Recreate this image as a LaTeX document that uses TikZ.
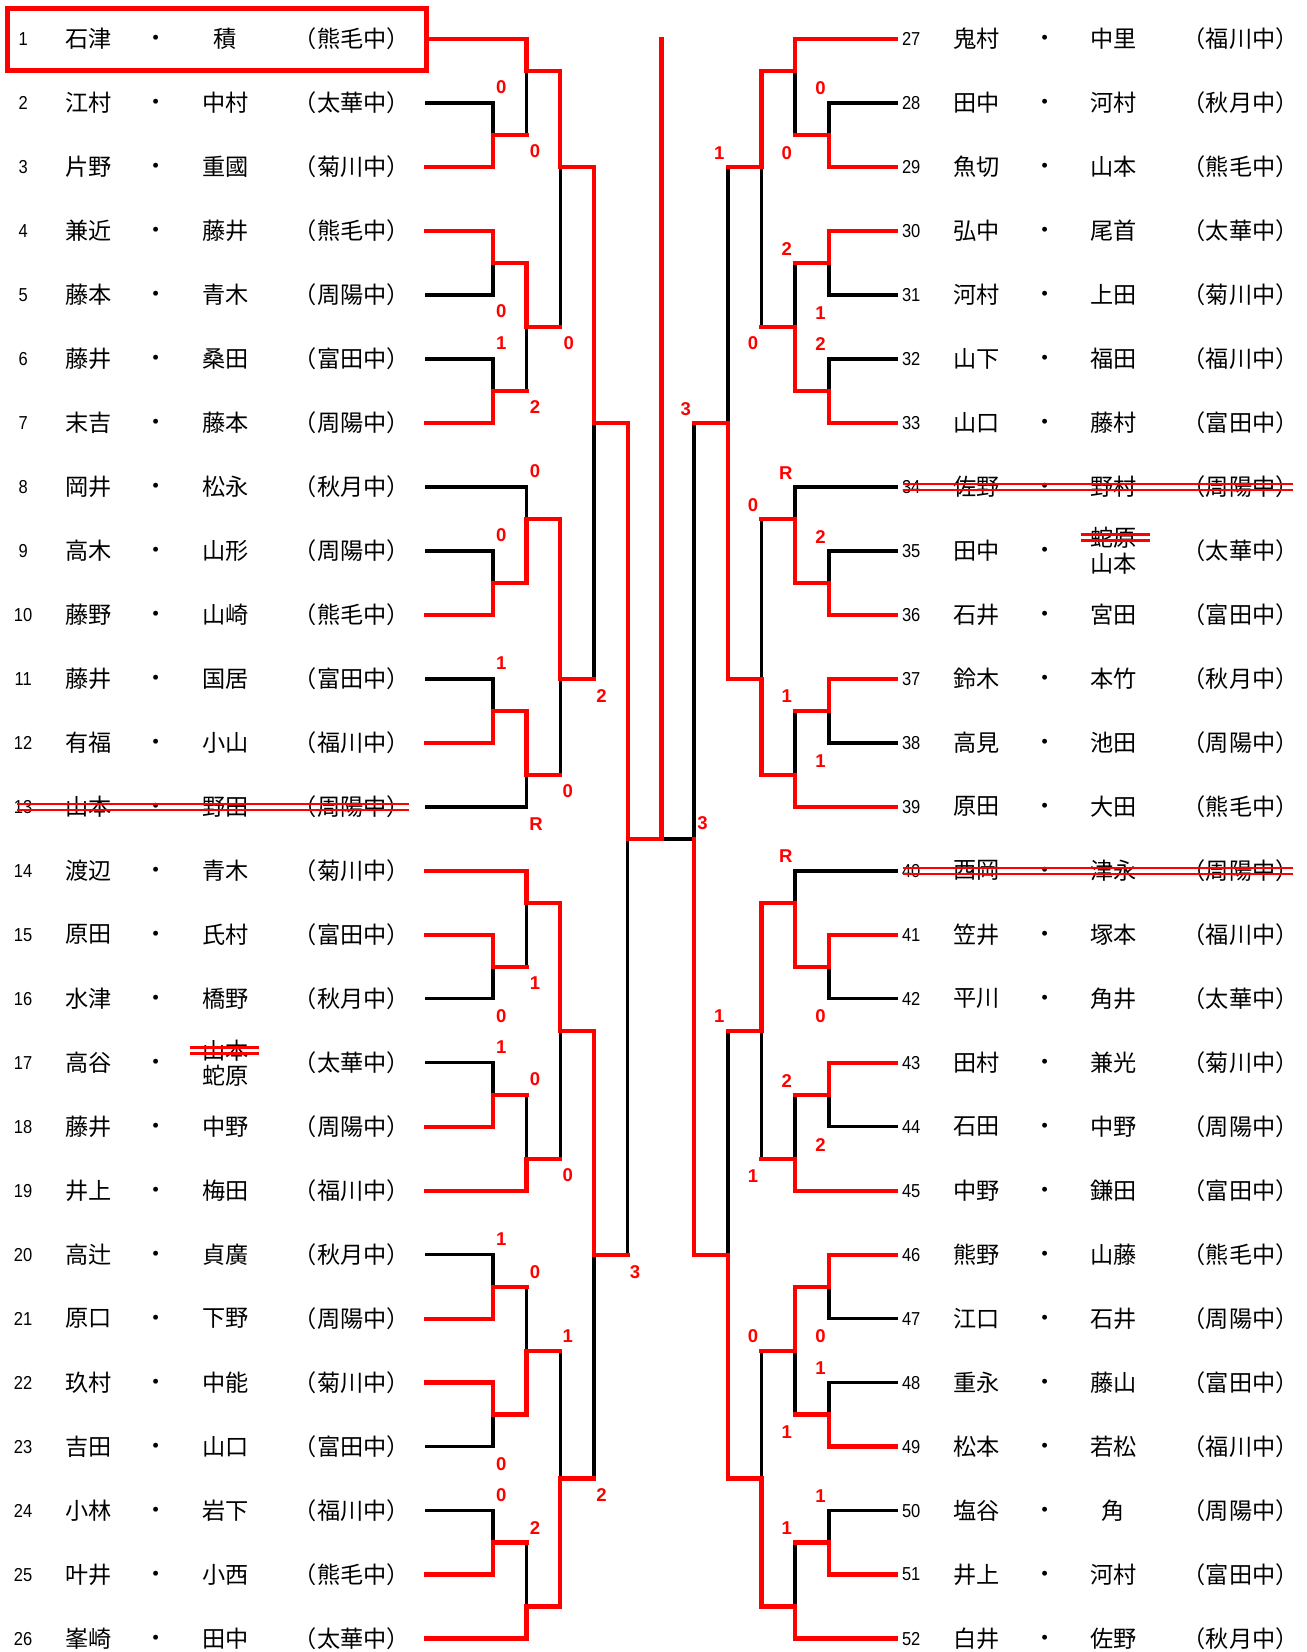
\documentclass[tikz,border=0pt]{standalone}
\usepackage{fontspec}
\setmainfont{Noto Sans CJK JP}
\newfontfamily\numf[FakeStretch=0.88]{Liberation Sans}
\newfontfamily\scf{Liberation Sans}
\begin{document}
\begin{tikzpicture}[
  lose/.style={draw=black, line width=1.65pt, line join=miter, line cap=rect},
  win/.style={draw=red, line width=2.05pt, line join=miter, line cap=rect},
  strk/.style={draw=red, line width=1.2pt},
  nm/.style={font=\fontsize{11}{12}\selectfont, inner sep=0pt},
  num/.style={font=\numf\fontsize{8.9}{10}\selectfont, inner sep=0pt},
  sc/.style={text=red, font=\scf\bfseries\fontsize{8.8}{10}\selectfont, inner sep=0pt}
]
\useasboundingbox (0pt,0pt) rectangle (620pt,-784.25pt);
\begin{scope}[yshift=11.875pt, x=0.5pt, y=-30.375pt]
% ---------- black (losing) lines, left ----------
\draw[lose] (405,2) -- (468,2) -- (468,2.5);
\draw[lose] (500,1.5) -- (500,2.5);
\draw[lose] (405,5) -- (468,5) -- (468,4.5);
\draw[lose] (405,6) -- (468,6) -- (468,6.5);
\draw[lose] (500,5.5) -- (500,6.5);
\draw[lose] (532,3) -- (532,5.5);
\draw[lose] (405,8) -- (500,8) -- (500,8.5);
\draw[lose] (405,9) -- (468,9) -- (468,9.5);
\draw[lose] (405,11) -- (468,11) -- (468,11.5);
\draw[lose] (405,13) -- (500,13) -- (500,12.5);
\draw[lose] (532,11) -- (532,12.5);
\draw[lose] (564,7) -- (564,11);
\draw[lose] (405,16) -- (468,16) -- (468,15.5);
\draw[lose] (500,14.5) -- (500,15.5);
\draw[lose] (405,17) -- (468,17) -- (468,17.5);
\draw[lose] (500,17.5) -- (500,18.5);
\draw[lose] (532,16.5) -- (532,18.5);
\draw[lose] (405,20) -- (468,20) -- (468,20.5);
\draw[lose] (500,20.5) -- (500,21.5);
\draw[lose] (405,23) -- (468,23) -- (468,22.5);
\draw[lose] (532,21.5) -- (532,23.5);
\draw[lose] (405,24) -- (468,24) -- (468,24.5);
\draw[lose] (500,24.5) -- (500,25.5);
\draw[lose] (564,20) -- (564,23.5);
\draw[lose] (596,13.5) -- (596,20);
\draw[lose] (628,13.5) -- (659,13.5);
% ---------- black (losing) lines, right ----------
\draw[lose] (851,2) -- (787,2) -- (787,2.5);
\draw[lose] (755,1.5) -- (755,2.5);
\draw[lose] (851,5) -- (787,5) -- (787,4.5);
\draw[lose] (755,4.5) -- (755,5.5);
\draw[lose] (851,6) -- (787,6) -- (787,6.5);
\draw[lose] (723,3) -- (723,5.5);
\draw[lose] (691,3) -- (691,7);
\draw[lose] (851,8) -- (755,8) -- (755,8.5);
\draw[lose] (851,9) -- (787,9) -- (787,9.5);
\draw[lose] (723,8.5) -- (723,11);
\draw[lose] (851,12) -- (787,12) -- (787,11.5);
\draw[lose] (755,11.5) -- (755,12.5);
\draw[lose] (659,7) -- (659,13.5);
\draw[lose] (851,14) -- (755,14) -- (755,14.5);
\draw[lose] (851,16) -- (787,16) -- (787,15.5);
\draw[lose] (851,18) -- (787,18) -- (787,17.5);
\draw[lose] (755,17.5) -- (755,18.5);
\draw[lose] (723,16.5) -- (723,18.5);
\draw[lose] (691,16.5) -- (691,20);
\draw[lose] (851,21) -- (787,21) -- (787,20.5);
\draw[lose] (851,22) -- (787,22) -- (787,22.5);
\draw[lose] (755,21.5) -- (755,22.5);
\draw[lose] (723,21.5) -- (723,23.5);
\draw[lose] (851,24) -- (787,24) -- (787,24.5);
\draw[lose] (755,24.5) -- (755,25.5);
% ---------- red (winning) lines, left ----------
\draw[win] (405,1) -- (500,1) -- (500,1.5) -- (532,1.5) -- (532,3) -- (564,3) -- (564,7) -- (596,7) -- (596,13.5) -- (628,13.5) -- (628,1);
\draw[win] (405,3) -- (468,3) -- (468,2.5) -- (500,2.5);
\draw[win] (405,4) -- (468,4) -- (468,4.5) -- (500,4.5) -- (500,5.5) -- (532,5.5);
\draw[win] (405,7) -- (468,7) -- (468,6.5) -- (500,6.5);
\draw[win] (405,10) -- (468,10) -- (468,9.5) -- (500,9.5) -- (500,8.5) -- (532,8.5) -- (532,11) -- (564,11);
\draw[win] (405,12) -- (468,12) -- (468,11.5) -- (500,11.5) -- (500,12.5) -- (532,12.5);
\draw[win] (405,14) -- (500,14) -- (500,14.5) -- (532,14.5) -- (532,16.5) -- (564,16.5) -- (564,20) -- (596,20);
\draw[win] (405,15) -- (468,15) -- (468,15.5) -- (500,15.5);
\draw[win] (405,18) -- (468,18) -- (468,17.5) -- (500,17.5);
\draw[win] (405,19) -- (500,19) -- (500,18.5) -- (532,18.5);
\draw[win] (405,21) -- (468,21) -- (468,20.5) -- (500,20.5);
\draw[win] (405,22) -- (468,22) -- (468,22.5) -- (500,22.5) -- (500,21.5) -- (532,21.5);
\draw[win] (405,25) -- (468,25) -- (468,24.5) -- (500,24.5);
\draw[win] (405,26) -- (500,26) -- (500,25.5) -- (532,25.5) -- (532,23.5) -- (564,23.5);
% ---------- red (winning) lines, right ----------
\draw[win] (851,1) -- (755,1) -- (755,1.5) -- (723,1.5) -- (723,3) -- (691,3);
\draw[win] (851,3) -- (787,3) -- (787,2.5) -- (755,2.5);
\draw[win] (851,4) -- (787,4) -- (787,4.5) -- (755,4.5);
\draw[win] (851,7) -- (787,7) -- (787,6.5) -- (755,6.5) -- (755,5.5) -- (723,5.5);
\draw[win] (851,10) -- (787,10) -- (787,9.5) -- (755,9.5) -- (755,8.5) -- (723,8.5);
\draw[win] (851,11) -- (787,11) -- (787,11.5) -- (755,11.5);
\draw[win] (851,13) -- (755,13) -- (755,12.5) -- (723,12.5) -- (723,11) -- (691,11) -- (691,7) -- (659,7);
\draw[win] (851,15) -- (787,15) -- (787,15.5) -- (755,15.5) -- (755,14.5) -- (723,14.5) -- (723,16.5) -- (691,16.5);
\draw[win] (851,17) -- (787,17) -- (787,17.5) -- (755,17.5);
\draw[win] (851,19) -- (755,19) -- (755,18.5) -- (723,18.5);
\draw[win] (851,20) -- (787,20) -- (787,20.5) -- (755,20.5) -- (755,21.5) -- (723,21.5);
\draw[win] (851,23) -- (787,23) -- (787,22.5) -- (755,22.5);
\draw[win] (851,25) -- (787,25) -- (787,24.5) -- (755,24.5);
\draw[win] (851,26) -- (755,26) -- (755,25.5) -- (723,25.5) -- (723,23.5) -- (691,23.5) -- (691,20) -- (659,20) -- (659,13.5);
% champion frame
\draw[win] (7,0.523) rectangle (405,1.494);
% ---------- entries, left ----------
\foreach \i/\s/\g/\c in {1/石津/積/熊毛中, 2/江村/中村/太華中, 3/片野/重國/菊川中,
  4/兼近/藤井/熊毛中, 5/藤本/青木/周陽中, 6/藤井/桑田/富田中, 7/末吉/藤本/周陽中,
  8/岡井/松永/秋月中, 9/高木/山形/周陽中, 10/藤野/山崎/熊毛中, 11/藤井/国居/富田中,
  12/有福/小山/福川中, 13/山本/野田/周陽中, 14/渡辺/青木/菊川中, 15/原田/氏村/富田中,
  16/水津/橋野/秋月中, 18/藤井/中野/周陽中, 19/井上/梅田/福川中, 20/高辻/貞廣/秋月中,
  21/原口/下野/周陽中, 22/玖村/中能/菊川中, 23/吉田/山口/富田中, 24/小林/岩下/福川中,
  25/叶井/小西/熊毛中, 26/峯崎/田中/太華中}{
  \node[num] (n\i) at (22,\i) {\i};
  \node[nm] (s\i) at (84,\i) {\s};
  \node[nm] (d\i) at (148,\i+0.03) {・};
  \node[nm] (g\i) at (214,\i) {\g};
  \node[nm] (c\i) at (334,\i) {（\c）};
}
\node[num] (n17) at (22,17) {17};
\node[nm] (s17) at (84,17) {高谷};
\node[nm] (d17) at (148,17.03) {・};
\node[nm] (g17a) at (214,16.81) {山本};
\node[nm] (g17b) at (214,17.2) {蛇原};
\node[nm] (c17) at (334,17) {（太華中）};
% ---------- entries, right ----------
\foreach \i/\j/\s/\g/\c in {27/1/鬼村/中里/福川中, 28/2/田中/河村/秋月中, 29/3/魚切/山本/熊毛中,
  30/4/弘中/尾首/太華中, 31/5/河村/上田/菊川中, 32/6/山下/福田/福川中, 33/7/山口/藤村/富田中,
  34/8/佐野/野村/周陽中, 36/10/石井/宮田/富田中, 37/11/鈴木/本竹/秋月中, 38/12/高見/池田/周陽中,
  39/13/原田/大田/熊毛中, 40/14/西岡/津永/周陽中, 41/15/笠井/塚本/福川中, 42/16/平川/角井/太華中,
  43/17/田村/兼光/菊川中, 44/18/石田/中野/周陽中, 45/19/中野/鎌田/富田中, 46/20/熊野/山藤/熊毛中,
  47/21/江口/石井/周陽中, 48/22/重永/藤山/富田中, 49/23/松本/若松/福川中, 50/24/塩谷/角/周陽中,
  51/25/井上/河村/富田中, 52/26/白井/佐野/秋月中}{
  \node[num, anchor=west] (n\i) at (856,\j) {\i};
  \node[nm] (s\i) at (927,\j) {\s};
  \node[nm] (d\i) at (992,\j+0.03) {・};
  \node[nm] (g\i) at (1057,\j) {\g};
  \node[nm] (c\i) at (1178,\j) {（\c）};
}
\node[num, anchor=west] (n35) at (856,9) {35};
\node[nm] (s35) at (927,9) {田中};
\node[nm] (d35) at (992,9.03) {・};
\node[nm] (g35a) at (1057,8.79) {蛇原};
\node[nm] (g35b) at (1057,9.2) {山本};
\node[nm] (c35) at (1178,9) {（太華中）};
% ---------- strike-throughs ----------
\foreach \a/\b/\r in {16/388/13, 857/1228/8, 857/1228/14, 180/246/16.81, 1026/1092/8.79}{
  \draw[strk] (\a,\r-0.047) -- (\b,\r-0.047);
  \draw[strk] (\a,\r+0.047) -- (\b,\r+0.047);
}
% ---------- scores ----------
\foreach \x/\k/\t [count=\n] in {476/1.76/0, 508/2.76/0, 476/5.26/0, 476/5.76/1, 540/5.76/0,
  508/6.76/2, 508/7.76/0, 476/8.76/0, 476/10.76/1, 571/11.27/2, 539/12.76/0, 509/13.27/R,
  508/15.76/1, 476/16.27/0, 476/16.76/1, 508/17.26/0, 539/18.76/0, 476/19.76/1, 508/20.27/0,
  603/20.27/3, 539/21.27/1, 476/23.27/0, 476/23.76/0, 571/23.76/2, 508/24.27/2,
  651/6.78/3, 667/13.26/3,
  779/1.77/0, 683/2.78/1, 747/2.78/0, 747/4.28/2, 779/5.28/1, 715/5.76/0, 779/5.76/2,
  746/7.78/R, 715/8.28/0, 779/8.79/2, 747/11.27/1, 779/12.28/1, 746/13.77/R,
  683/16.27/1, 779/16.27/0, 747/17.28/2, 779/18.28/2, 715/18.78/1,
  715/21.28/0, 779/21.28/0, 779/21.77/1, 747/22.78/1, 779/23.78/1, 747/24.28/1}{
  \node[sc] (sc\n) at (\x,\k) {\t};
}
\end{scope}
\end{tikzpicture}
\end{document}
